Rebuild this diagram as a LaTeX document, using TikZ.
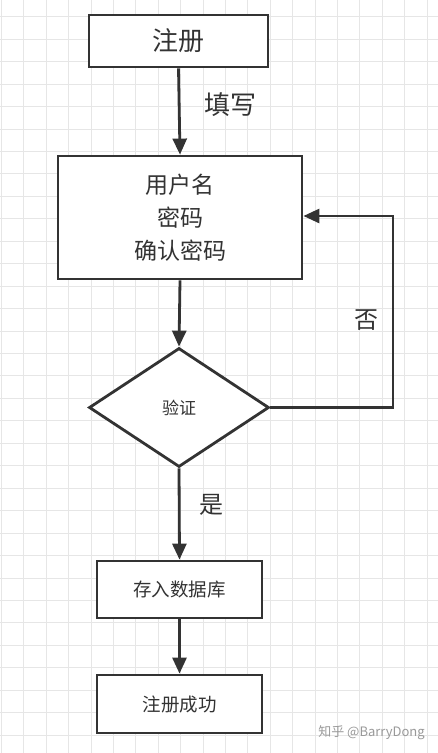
\documentclass[tikz,border=0pt]{standalone}
\usepackage{fontspec}
\setmainfont{Noto Sans CJK SC}
\usetikzlibrary{arrows.meta,shapes.geometric}
\definecolor{ln}{HTML}{333333}
\definecolor{gridc}{HTML}{E6E6E6}
\tikzset{
  box/.style={draw=ln,line width=2.8pt,fill=white,inner sep=0pt,text=ln},
  conn/.style={draw=ln,line width=2.8pt,-{Triangle[length=16pt,width=14pt]}},
  lbl/.style={text=ln,inner sep=0pt},
}
\begin{document}
\begin{tikzpicture}[x=1pt,y=-1pt]
\useasboundingbox (0,0) rectangle (438,753);
\fill[white] (0,0) rectangle (438,753);
\foreach \i in {0,...,19} {\draw[gridc,line width=1pt] (1.5+22.4*\i,0) -- (1.5+22.4*\i,753);}
\foreach \j in {0,...,33} {\draw[gridc,line width=1pt] (0,-5.7+22.45*\j) -- (438,-5.7+22.45*\j);}
\node[box,minimum width=179pt,minimum height=52pt,font=\fontsize{26}{30}\selectfont] (reg) at (178.5,41) {注册};
\node[box,minimum width=244pt,minimum height=123pt,align=center,font=\fontsize{23}{33}\selectfont] (form) at (180,217.5) {用户名\\密码\\确认密码};
\node[box,diamond,minimum width=180pt,minimum height=119pt,aspect=1.5,font=\fontsize{17}{20}\selectfont] (ver) at (179,407.5) {验证};
\node[box,minimum width=165pt,minimum height=57pt,font=\fontsize{18.5}{22}\selectfont] (db) at (179.5,589.5) {存入数据库};
\node[box,minimum width=165pt,minimum height=58pt,font=\fontsize{18.5}{22}\selectfont] (ok) at (179.5,704) {注册成功};
\coordinate (c1) at (393,407.5);
\coordinate (c2) at (393,216);
\draw[conn] (reg.south) -- (form.north);
\draw[conn] (form.south) -- (ver.north);
\draw[conn] (ver.east) -- (c1) -- (c2) -- (form.east |- c2);
\draw[conn] (ver.south) -- (db.north);
\draw[conn] (db.south) -- (ok.north);
\node[lbl,font=\fontsize{26}{30}\selectfont] (t1) at (230,105) {填写};
\node[lbl,font=\fontsize{24}{28}\selectfont] (t2) at (366,320) {否};
\node[lbl,font=\fontsize{24}{28}\selectfont] (t3) at (211,505) {是};
\node[text=black!40,inner sep=0pt,font=\fontsize{13}{15}\selectfont] (wm) at (371.5,733) {知乎 @BarryDong};
\end{tikzpicture}
\end{document}
